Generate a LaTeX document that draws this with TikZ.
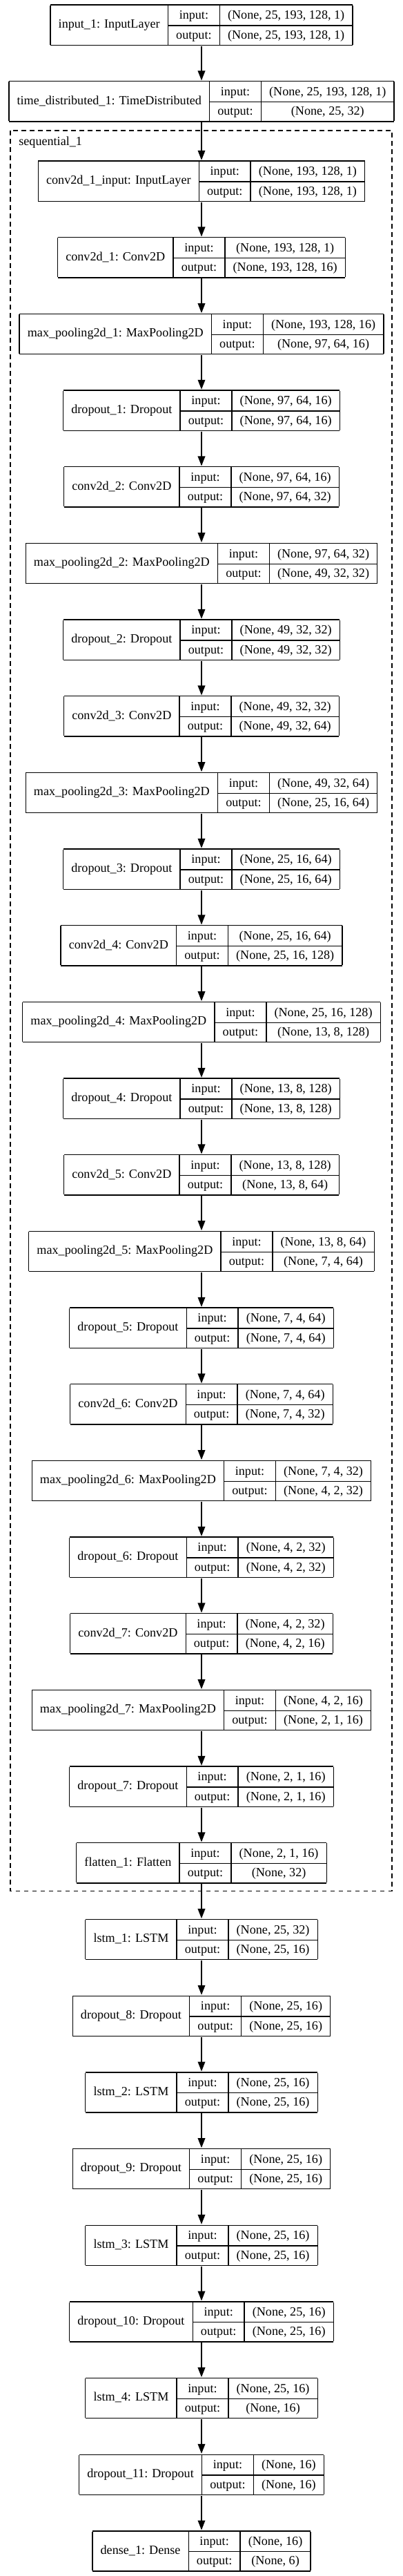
\documentclass[tikz,border=0pt]{standalone}
\usepackage{fontspec}
\setmainfont{Liberation Serif}
\usepackage{multirow}
\usetikzlibrary{positioning, arrows.meta}

\setlength{\arrayrulewidth}{1pt}
\setlength{\tabcolsep}{8.8pt}
\renewcommand{\arraystretch}{1.31}
\newcommand{\kerasnode}[3]{%
  \begin{tabular}{|c|c|c|}\hline
    \multirow{2}{*}{#1} & input: & #2 \\ \cline{2-3}
     & output: & #3 \\ \hline
  \end{tabular}}

\begin{document}
\begin{tikzpicture}[node distance=83pt,on grid,line width=1pt,
    layer/.style={inner sep=0pt,font=\fontsize{13.6}{16.3}\selectfont},
    >={Triangle[length=10.5pt,width=8pt]}]
      \useasboundingbox (0,0) rectangle (438pt,-2796.75pt);
      \draw[dash pattern=on 5pt off 4pt] (11.25pt,-141.75pt) rectangle (426pt,-2053pt);
      \node[layer,anchor=west] (seq_label) at (20pt,-154.3pt) {sequential\_1};

      \node[layer] (input_1) at (219pt,-27.2pt) {\kerasnode{input\_1: InputLayer}{(None, 25, 193, 128, 1)}{(None, 25, 193, 128, 1)}};
      \node[layer] (time_distributed_1) [below=of input_1] {\kerasnode{time\_distributed\_1: TimeDistributed}{(None, 25, 193, 128, 1)}{(None, 25, 32)}};
      \node[layer] (conv2d_1_input) [below=86.5pt of time_distributed_1] {\kerasnode{conv2d\_1\_input: InputLayer}{(None, 193, 128, 1)}{(None, 193, 128, 1)}};
      \node[layer] (conv2d_1) [below=of conv2d_1_input] {\kerasnode{conv2d\_1: Conv2D}{(None, 193, 128, 1)}{(None, 193, 128, 16)}};
      \node[layer] (max_pooling2d_1) [below=of conv2d_1] {\kerasnode{max\_pooling2d\_1: MaxPooling2D}{(None, 193, 128, 16)}{(None, 97, 64, 16)}};
      \node[layer] (dropout_1) [below=of max_pooling2d_1] {\kerasnode{dropout\_1: Dropout}{(None, 97, 64, 16)}{(None, 97, 64, 16)}};
      \node[layer] (conv2d_2) [below=of dropout_1] {\kerasnode{conv2d\_2: Conv2D}{(None, 97, 64, 16)}{(None, 97, 64, 32)}};
      \node[layer] (max_pooling2d_2) [below=of conv2d_2] {\kerasnode{max\_pooling2d\_2: MaxPooling2D}{(None, 97, 64, 32)}{(None, 49, 32, 32)}};
      \node[layer] (dropout_2) [below=of max_pooling2d_2] {\kerasnode{dropout\_2: Dropout}{(None, 49, 32, 32)}{(None, 49, 32, 32)}};
      \node[layer] (conv2d_3) [below=of dropout_2] {\kerasnode{conv2d\_3: Conv2D}{(None, 49, 32, 32)}{(None, 49, 32, 64)}};
      \node[layer] (max_pooling2d_3) [below=of conv2d_3] {\kerasnode{max\_pooling2d\_3: MaxPooling2D}{(None, 49, 32, 64)}{(None, 25, 16, 64)}};
      \node[layer] (dropout_3) [below=of max_pooling2d_3] {\kerasnode{dropout\_3: Dropout}{(None, 25, 16, 64)}{(None, 25, 16, 64)}};
      \node[layer] (conv2d_4) [below=of dropout_3] {\kerasnode{conv2d\_4: Conv2D}{(None, 25, 16, 64)}{(None, 25, 16, 128)}};
      \node[layer] (max_pooling2d_4) [below=of conv2d_4] {\kerasnode{max\_pooling2d\_4: MaxPooling2D}{(None, 25, 16, 128)}{(None, 13, 8, 128)}};
      \node[layer] (dropout_4) [below=of max_pooling2d_4] {\kerasnode{dropout\_4: Dropout}{(None, 13, 8, 128)}{(None, 13, 8, 128)}};
      \node[layer] (conv2d_5) [below=of dropout_4] {\kerasnode{conv2d\_5: Conv2D}{(None, 13, 8, 128)}{(None, 13, 8, 64)}};
      \node[layer] (max_pooling2d_5) [below=of conv2d_5] {\kerasnode{max\_pooling2d\_5: MaxPooling2D}{(None, 13, 8, 64)}{(None, 7, 4, 64)}};
      \node[layer] (dropout_5) [below=of max_pooling2d_5] {\kerasnode{dropout\_5: Dropout}{(None, 7, 4, 64)}{(None, 7, 4, 64)}};
      \node[layer] (conv2d_6) [below=of dropout_5] {\kerasnode{conv2d\_6: Conv2D}{(None, 7, 4, 64)}{(None, 7, 4, 32)}};
      \node[layer] (max_pooling2d_6) [below=of conv2d_6] {\kerasnode{max\_pooling2d\_6: MaxPooling2D}{(None, 7, 4, 32)}{(None, 4, 2, 32)}};
      \node[layer] (dropout_6) [below=of max_pooling2d_6] {\kerasnode{dropout\_6: Dropout}{(None, 4, 2, 32)}{(None, 4, 2, 32)}};
      \node[layer] (conv2d_7) [below=of dropout_6] {\kerasnode{conv2d\_7: Conv2D}{(None, 4, 2, 32)}{(None, 4, 2, 16)}};
      \node[layer] (max_pooling2d_7) [below=of conv2d_7] {\kerasnode{max\_pooling2d\_7: MaxPooling2D}{(None, 4, 2, 16)}{(None, 2, 1, 16)}};
      \node[layer] (dropout_7) [below=of max_pooling2d_7] {\kerasnode{dropout\_7: Dropout}{(None, 2, 1, 16)}{(None, 2, 1, 16)}};
      \node[layer] (flatten_1) [below=of dropout_7] {\kerasnode{flatten\_1: Flatten}{(None, 2, 1, 16)}{(None, 32)}};
      \node[layer] (lstm_1) [below=of flatten_1] {\kerasnode{lstm\_1: LSTM}{(None, 25, 32)}{(None, 25, 16)}};
      \node[layer] (dropout_8) [below=of lstm_1] {\kerasnode{dropout\_8: Dropout}{(None, 25, 16)}{(None, 25, 16)}};
      \node[layer] (lstm_2) [below=of dropout_8] {\kerasnode{lstm\_2: LSTM}{(None, 25, 16)}{(None, 25, 16)}};
      \node[layer] (dropout_9) [below=of lstm_2] {\kerasnode{dropout\_9: Dropout}{(None, 25, 16)}{(None, 25, 16)}};
      \node[layer] (lstm_3) [below=of dropout_9] {\kerasnode{lstm\_3: LSTM}{(None, 25, 16)}{(None, 25, 16)}};
      \node[layer] (dropout_10) [below=of lstm_3] {\kerasnode{dropout\_10: Dropout}{(None, 25, 16)}{(None, 25, 16)}};
      \node[layer] (lstm_4) [below=of dropout_10] {\kerasnode{lstm\_4: LSTM}{(None, 25, 16)}{(None, 16)}};
      \node[layer] (dropout_11) [below=of lstm_4] {\kerasnode{dropout\_11: Dropout}{(None, 16)}{(None, 16)}};
      \node[layer] (dense_1) [below=of dropout_11] {\kerasnode{dense\_1: Dense}{(None, 16)}{(None, 6)}};

      \path[->]
      (input_1) edge (time_distributed_1)
      (time_distributed_1) edge (conv2d_1_input)
      (conv2d_1_input) edge (conv2d_1)
      (conv2d_1) edge (max_pooling2d_1)
      (max_pooling2d_1) edge (dropout_1)
      (dropout_1) edge (conv2d_2)
      (conv2d_2) edge (max_pooling2d_2)
      (max_pooling2d_2) edge (dropout_2)
      (dropout_2) edge (conv2d_3)
      (conv2d_3) edge (max_pooling2d_3)
      (max_pooling2d_3) edge (dropout_3)
      (dropout_3) edge (conv2d_4)
      (conv2d_4) edge (max_pooling2d_4)
      (max_pooling2d_4) edge (dropout_4)
      (dropout_4) edge (conv2d_5)
      (conv2d_5) edge (max_pooling2d_5)
      (max_pooling2d_5) edge (dropout_5)
      (dropout_5) edge (conv2d_6)
      (conv2d_6) edge (max_pooling2d_6)
      (max_pooling2d_6) edge (dropout_6)
      (dropout_6) edge (conv2d_7)
      (conv2d_7) edge (max_pooling2d_7)
      (max_pooling2d_7) edge (dropout_7)
      (dropout_7) edge (flatten_1);
      \path[->]
      (flatten_1) edge (lstm_1)
      (lstm_1) edge (dropout_8)
      (dropout_8) edge (lstm_2)
      (lstm_2) edge (dropout_9)
      (dropout_9) edge (lstm_3)
      (lstm_3) edge (dropout_10)
      (dropout_10) edge (lstm_4)
      (lstm_4) edge (dropout_11)
      (dropout_11) edge (dense_1);
    \end{tikzpicture}
\end{document}
